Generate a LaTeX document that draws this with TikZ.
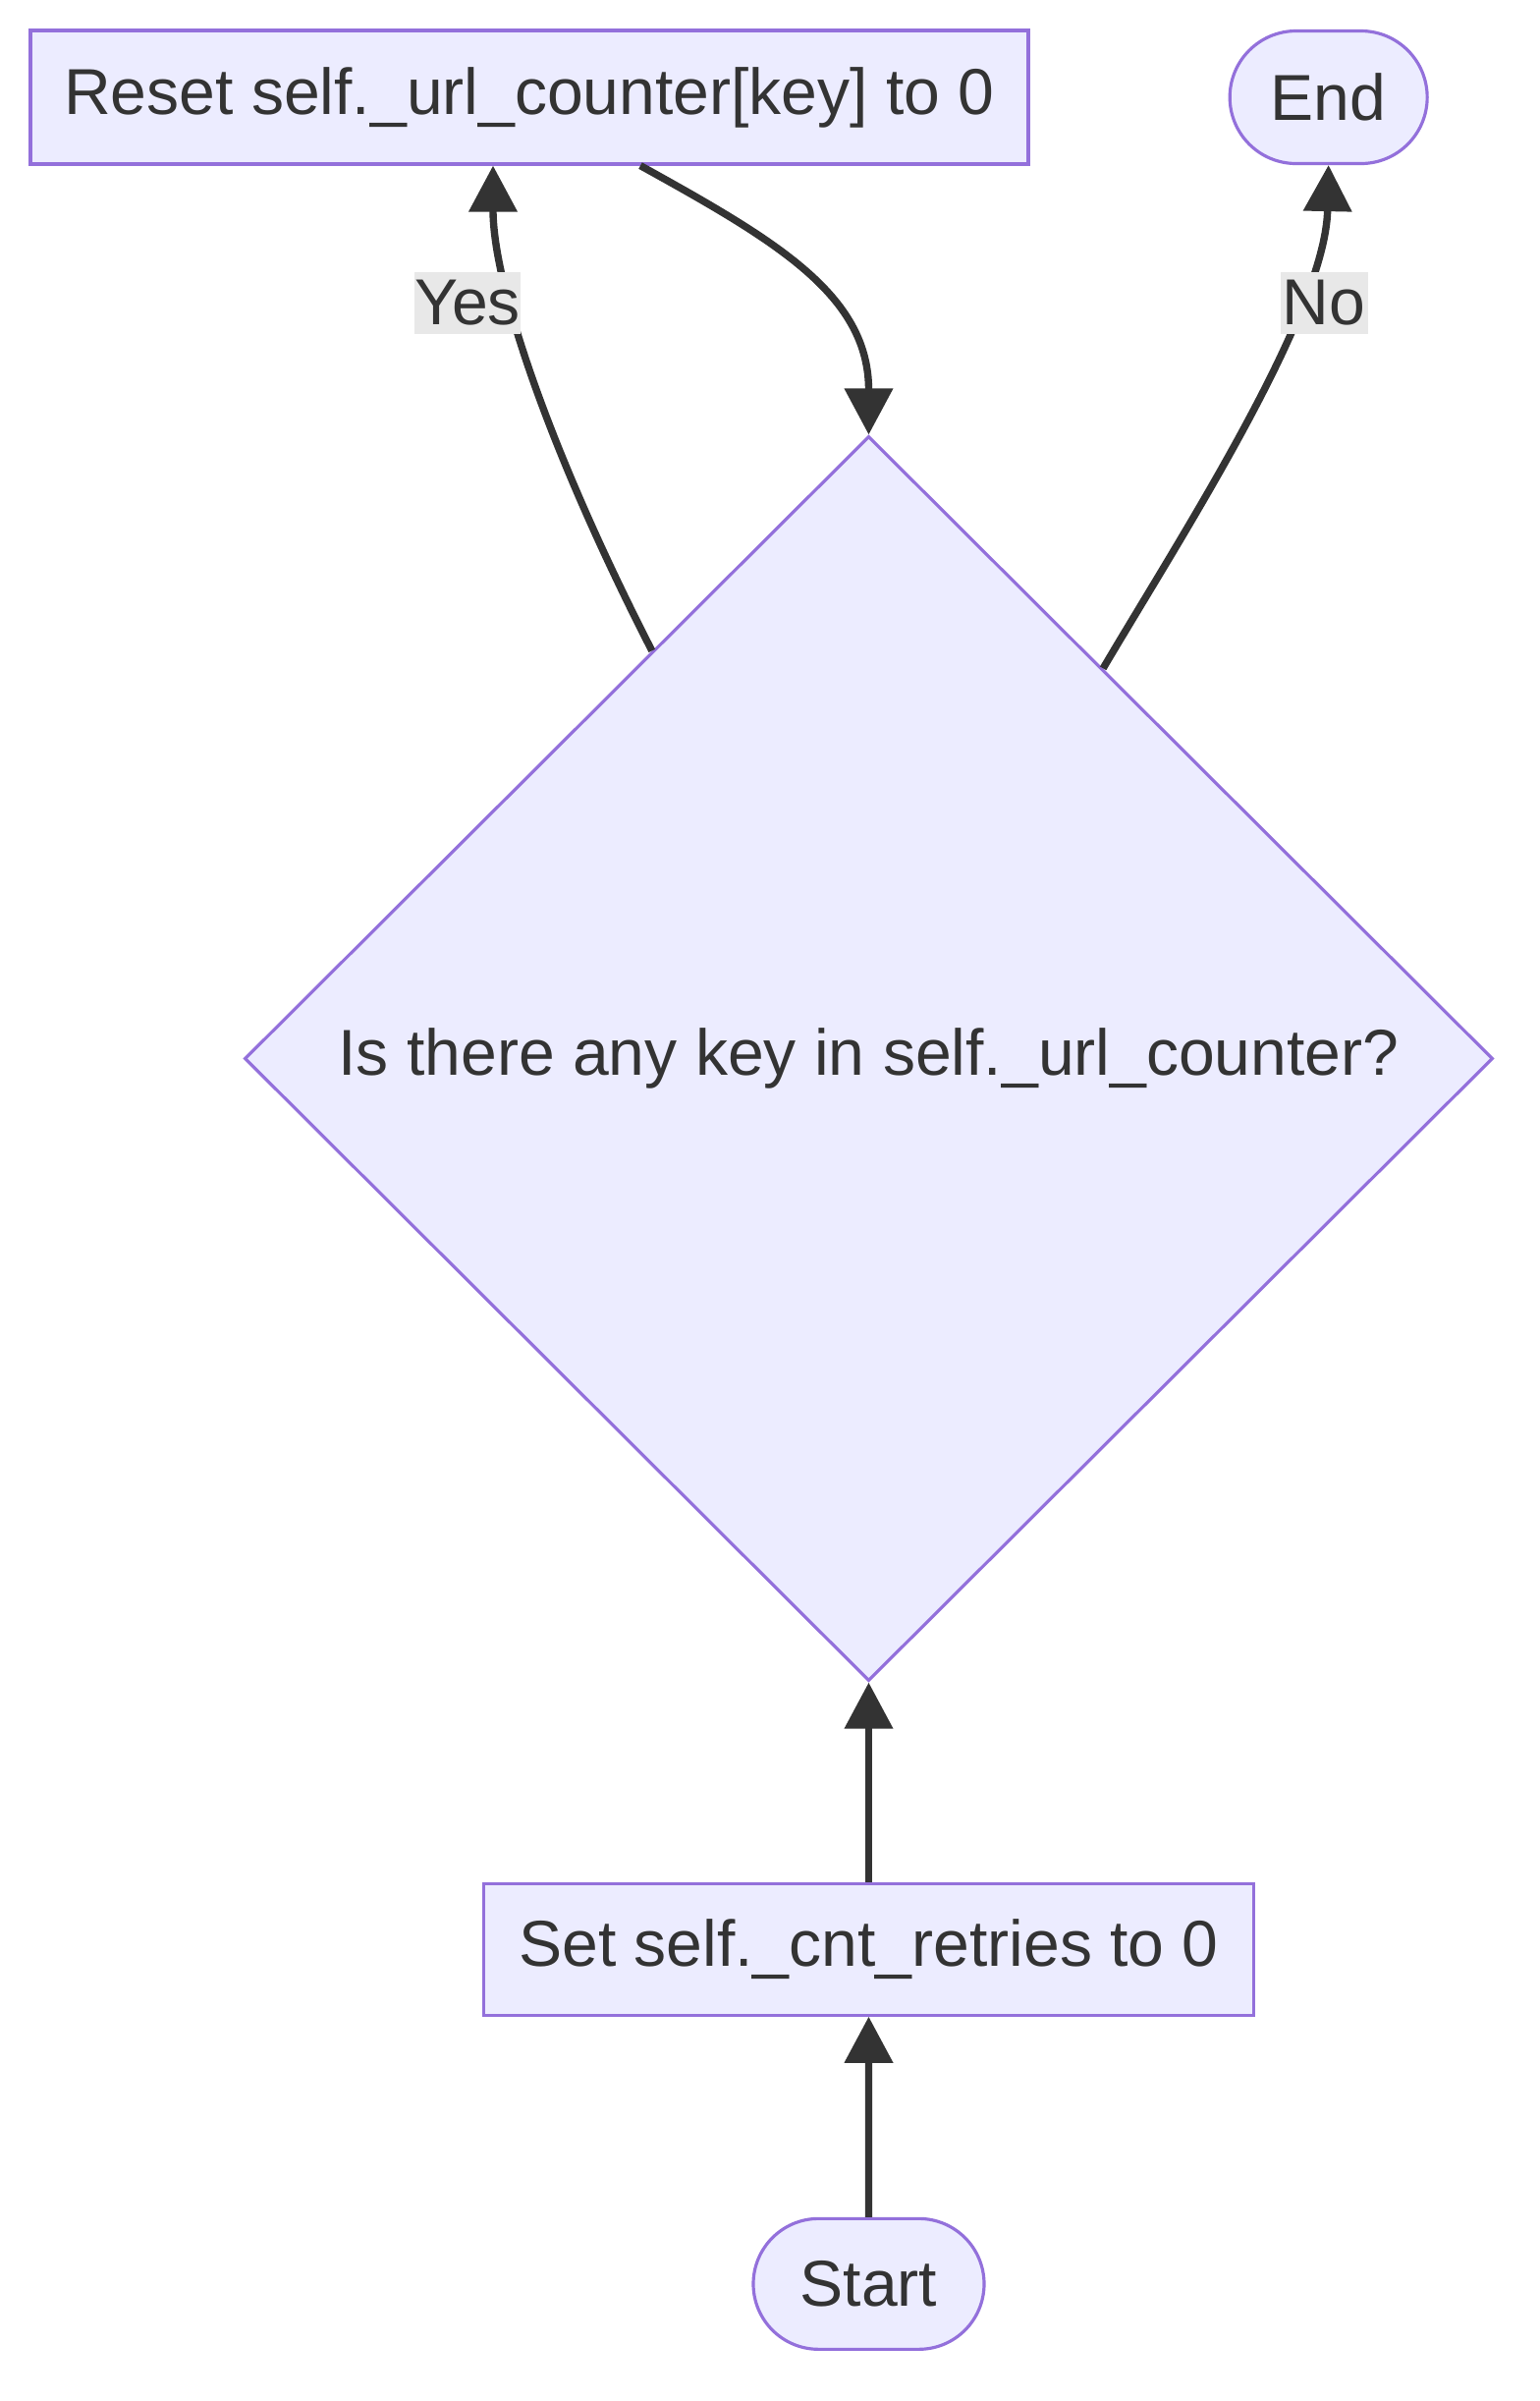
\documentclass[tikz,border=0pt]{standalone}
\usepackage{fontspec}
\setmainfont{Liberation Sans}
\usepackage{xcolor}
\definecolor{NodeFill}{RGB}{236,236,255}
\definecolor{NodeBorder}{RGB}{147,112,219}
\definecolor{LineGray}{RGB}{51,51,51}
\definecolor{LabelBg}{RGB}{232,232,232}
\definecolor{TextGray}{RGB}{51,51,51}
\usepackage{tikz}
\usetikzlibrary{shapes.geometric,shapes.misc,arrows.meta,positioning,calc}

\begin{document}
\begin{tikzpicture}[
  font=\fontsize{18.8pt}{22pt}\selectfont,
  box/.style={rectangle,draw=NodeBorder,fill=NodeFill,line width=0.9pt,
              minimum height=1.36cm,inner sep=0pt,text=TextGray},
  pill/.style={rounded rectangle,draw=NodeBorder,fill=NodeFill,line width=0.9pt,
               minimum height=1.35cm,inner sep=0pt,text=TextGray},
  choice/.style={diamond,draw=NodeBorder,fill=NodeFill,line width=0.9pt,
                 minimum width=12.71cm,minimum height=12.67cm,inner sep=0pt,text=TextGray},
  lbl/.style={fill=LabelBg,text=TextGray,inner sep=0pt,minimum width=0.89cm,minimum height=0.63cm},
  arr/.style={-{Triangle[length=0.47cm,width=0.48cm]},line width=2.1pt,LineGray}
]
  \useasboundingbox (0,0) rectangle (15.68,-24.44);
  \node[box,minimum width=10.16cm] (reset) at (5.39,-0.99) {Reset self.\_url\_counter[key] to 0};
  \node[pill,minimum width=2.01cm,right=2.02cm of reset] (endn) {End};
  \node[choice] (check) at (8.845,-10.775) {Is there any key in self.\_url\_counter?};
  \node[box,minimum width=7.84cm,minimum height=1.34cm,below=2.03cm of check] (init) {Set self.\_cnt\_retries to 0};
  \node[pill,minimum width=2.35cm,minimum height=1.33cm,below=2.04cm of init] (start) {Start};
  \draw[arr](start)--(init);
  \draw[arr](init)--(check);
  \draw[arr](check.118) .. controls (5.6,-4.6) and (5.02,-2.9) .. ([xshift=-0.37cm]reset.south);
  \draw[arr]([xshift=1.13cm]reset.south) .. controls (7.9,-2.45) and (8.845,-3.0) .. (check.north);
  \draw[arr](check.59) .. controls (12.0,-5.5) and (13.495,-3.2) .. (endn.south);
  \node[lbl] (yes) at (4.76,-3.08) {Yes};
  \node[lbl] (no) at (13.48,-3.08) {No};
\end{tikzpicture}
\end{document}
